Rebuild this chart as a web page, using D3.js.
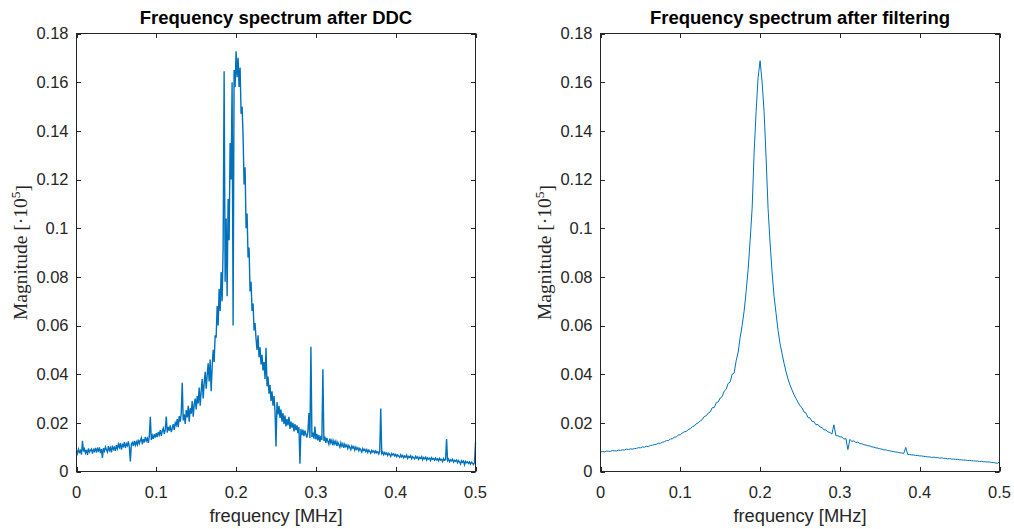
<!DOCTYPE html>
<html>
<head>
<meta charset="utf-8">
<script src="https://cdn.jsdelivr.net/npm/d3@7"></script>
<style>
  html, body { margin: 0; padding: 0; background: #fff; }
  svg { display: block; }
</style>
</head>
<body>
<script>
// ---------- data ----------
const freqStepDDC = 0.00125;      // MHz between bins, left spectrum (401 bins, 0..0.5)
const freqStepFilt = 0.0025;      // MHz between bins, right spectrum (201 bins, 0..0.5)
const titles = ["Frequency spectrum after DDC", "Frequency spectrum after filtering"];
const xTicks = [0, 0.1, 0.2, 0.3, 0.4, 0.5];
const xTickLabels = ["0", "0.1", "0.2", "0.3", "0.4", "0.5"];
const yTicks = [0, 0.02, 0.04, 0.06, 0.08, 0.1, 0.12, 0.14, 0.16, 0.18];
const yTickLabels = ["0", "0.02", "0.04", "0.06", "0.08", "0.1", "0.12", "0.14", "0.16", "0.18"];

const magAfterDDC = [
0.0088,0.0074,0.0091,0.0079,0.0086,0.0070,0.0126,0.0082,0.0093,0.0076,
0.0089,0.0068,0.0095,0.0080,0.0087,0.0092,0.0074,0.0090,0.0083,0.0097,
0.0078,0.0094,0.0085,0.0099,0.0076,0.0092,0.0056,0.0096,0.0084,0.0101,
0.0089,0.0080,0.0104,0.0087,0.0098,0.0079,0.0106,0.0091,0.0099,0.0085,
0.0108,0.0094,0.0112,0.0099,0.0117,0.0090,0.0110,0.0103,0.0121,0.0097,
0.0114,0.0106,0.0124,0.0100,0.0041,0.0113,0.0119,0.0105,0.0126,0.0108,
0.0122,0.0110,0.0131,0.0115,0.0127,0.0138,0.0112,0.0133,0.0120,0.0142,
0.0126,0.0136,0.0118,0.0145,0.0225,0.0130,0.0148,0.0134,0.0153,0.0139,
0.0158,0.0141,0.0163,0.0150,0.0170,0.0146,0.0167,0.0178,0.0155,0.0172,
0.0226,0.0160,0.0183,0.0168,0.0190,0.0162,0.0176,0.0195,0.0171,0.0200,
0.0190,0.0215,0.0182,0.0228,0.0205,0.0240,0.0365,0.0210,0.0235,0.0195,
0.0252,0.0222,0.0270,0.0205,0.0260,0.0238,0.0290,0.0225,0.0275,0.0300,
0.0255,0.0310,0.0280,0.0345,0.0270,0.0330,0.0380,0.0300,0.0365,0.0410,
0.0340,0.0395,0.0445,0.0370,0.0460,0.0330,0.0430,0.0500,0.0450,0.0560,
0.0550,0.0680,0.0600,0.0750,0.0660,0.0820,0.0700,0.0920,0.1645,0.0780,
0.1040,0.0720,0.1120,0.0950,0.1350,0.1200,0.1600,0.0600,0.1650,0.1580,
0.1727,0.1620,0.1700,0.1580,0.1660,0.1470,0.1500,0.1380,0.1180,0.1250,
0.1000,0.1060,0.0880,0.0920,0.0740,0.0780,0.0660,0.0690,0.0580,0.0610,
0.0545,0.0500,0.0560,0.0470,0.0510,0.0440,0.0480,0.0415,0.0450,0.0380,
0.0508,0.0350,0.0390,0.0320,0.0355,0.0290,0.0330,0.0270,0.0310,0.0250,
0.0103,0.0285,0.0235,0.0270,0.0220,0.0255,0.0205,0.0240,0.0195,0.0230,
0.0185,0.0215,0.0190,0.0225,0.0175,0.0205,0.0180,0.0200,0.0165,0.0195,
0.0170,0.0190,0.0158,0.0182,0.0032,0.0175,0.0150,0.0172,0.0145,0.0168,
0.0152,0.0140,0.0165,0.0240,0.0138,0.0513,0.0142,0.0160,0.0135,0.0185,
0.0132,0.0155,0.0128,0.0150,0.0122,0.0146,0.0130,0.0420,0.0125,0.0143,
0.0118,0.0138,0.0124,0.0112,0.0135,0.0117,0.0129,0.0108,0.0126,0.0113,
0.0124,0.0105,0.0120,0.0110,0.0100,0.0118,0.0104,0.0114,0.0097,0.0112,
0.0102,0.0109,0.0094,0.0107,0.0099,0.0090,0.0105,0.0096,0.0102,0.0088,
0.0100,0.0091,0.0097,0.0085,0.0095,0.0089,0.0080,0.0094,0.0086,0.0091,
0.0082,0.0090,0.0078,0.0088,0.0083,0.0075,0.0087,0.0080,0.0085,0.0076,
0.0084,0.0077,0.0081,0.0072,0.0083,0.0259,0.0074,0.0080,0.0069,0.0078,
0.0071,0.0076,0.0066,0.0075,0.0070,0.0062,0.0074,0.0068,0.0072,0.0064,
0.0070,0.0061,0.0068,0.0063,0.0058,0.0069,0.0060,0.0066,0.0056,0.0064,
0.0059,0.0067,0.0054,0.0062,0.0058,0.0065,0.0053,0.0061,0.0057,0.0052,
0.0062,0.0055,0.0060,0.0050,0.0058,0.0054,0.0061,0.0048,0.0057,0.0052,
0.0059,0.0047,0.0056,0.0051,0.0055,0.0045,0.0057,0.0050,0.0053,0.0046,
0.0055,0.0048,0.0052,0.0044,0.0054,0.0047,0.0050,0.0041,0.0053,0.0046,
0.0049,0.0133,0.0045,0.0051,0.0040,0.0048,0.0044,0.0050,0.0039,0.0046,
0.0042,0.0047,0.0036,0.0045,0.0040,0.0031,0.0044,0.0038,0.0043,0.0028,
0.0041,0.0036,0.0040,0.0033,0.0039,0.0030,0.0038,0.0034,0.0029,0.0036,
0.0119];

const magAfterFilter = [
0.0080,0.0082,0.0081,0.0084,0.0083,0.0083,0.0086,0.0085,0.0085,0.0088,
0.0087,0.0089,0.0088,0.0092,0.0090,0.0093,0.0092,0.0094,0.0095,0.0098,
0.0097,0.0101,0.0100,0.0104,0.0102,0.0107,0.0108,0.0111,0.0112,0.0116,
0.0116,0.0120,0.0122,0.0127,0.0127,0.0133,0.0135,0.0141,0.0142,0.0150,
0.0151,0.0158,0.0163,0.0165,0.0172,0.0176,0.0184,0.0187,0.0196,0.0200,
0.0208,0.0213,0.0226,0.0229,0.0240,0.0245,0.0262,0.0263,0.0282,0.0286,
0.0302,0.0308,0.0330,0.0338,0.0362,0.0368,0.0400,0.0405,0.0455,0.0490,
0.0550,0.0600,0.0660,0.0740,0.0830,0.0950,0.1080,0.1310,0.1480,0.1620,
0.1688,0.1600,0.1480,0.1290,0.1080,0.0940,0.0820,0.0720,0.0650,0.0580,
0.0525,0.0485,0.0445,0.0410,0.0380,0.0355,0.0335,0.0315,0.0300,0.0285,
0.0270,0.0262,0.0245,0.0240,0.0222,0.0220,0.0206,0.0205,0.0192,0.0193,
0.0183,0.0180,0.0172,0.0170,0.0163,0.0160,0.0154,0.0192,0.0147,0.0147,
0.0142,0.0142,0.0133,0.0136,0.0090,0.0132,0.0124,0.0126,0.0119,0.0121,
0.0115,0.0114,0.0110,0.0109,0.0106,0.0105,0.0101,0.0100,0.0097,0.0096,
0.0093,0.0092,0.0089,0.0089,0.0086,0.0085,0.0083,0.0082,0.0080,0.0079,
0.0077,0.0076,0.0074,0.0099,0.0070,0.0070,0.0068,0.0068,0.0066,0.0066,
0.0064,0.0064,0.0062,0.0062,0.0060,0.0060,0.0058,0.0059,0.0057,0.0057,
0.0055,0.0056,0.0054,0.0054,0.0052,0.0053,0.0051,0.0051,0.0050,0.0050,
0.0048,0.0048,0.0047,0.0047,0.0045,0.0046,0.0044,0.0044,0.0043,0.0043,
0.0041,0.0042,0.0040,0.0040,0.0039,0.0039,0.0037,0.0037,0.0035,0.0034,
0.0040];

const series = [magAfterDDC, magAfterFilter];
const steps = [freqStepDDC, freqStepFilt];

// ---------- layout ----------
const W = 1014, H = 529;
const svg = d3.select("body").append("svg").attr("width", W).attr("height", H);
const panels = [
  { left: 76.5, right: 475.5, lw: 1.4 },
  { left: 600.5, right: 999.5, lw: 1.0 }
];
const plotTop = 33.5, plotBottom = 471.5;
const axisColor = "#262626";
const tickFont = "Liberation Sans, Arial, Helvetica, sans-serif";

panels.forEach((p, k) => {
  const x = d3.scaleLinear().domain([0, 0.5]).range([p.left, p.right]);
  const y = d3.scaleLinear().domain([0, 0.18]).range([plotBottom, plotTop]);
  const g = svg.append("g");

  // data line
  const step = steps[k];
  const line = d3.line().x((d, i) => x(i * step)).y(d => y(d));
  g.append("path")
    .datum(series[k])
    .attr("d", line)
    .attr("fill", "none")
    .attr("stroke", "#0072BD")
    .attr("stroke-width", p.lw)
    .attr("stroke-linejoin", "miter");

  // box
  g.append("rect")
    .attr("x", p.left).attr("y", plotTop)
    .attr("width", p.right - p.left).attr("height", plotBottom - plotTop)
    .attr("fill", "none").attr("stroke", axisColor).attr("stroke-width", 1);

  const tl = 4.5;
  // x ticks (bottom & top, inward)
  xTicks.forEach((t, i) => {
    const xp = Math.round(x(t)) + 0.5;
    g.append("line").attr("x1", xp).attr("x2", xp).attr("y1", plotBottom).attr("y2", plotBottom - tl).attr("stroke", axisColor);
    g.append("line").attr("x1", xp).attr("x2", xp).attr("y1", plotTop).attr("y2", plotTop + tl).attr("stroke", axisColor);
    g.append("text").attr("x", x(t)).attr("y", 497.5)
      .attr("text-anchor", "middle")
      .attr("font-family", tickFont).attr("font-size", 16.5)
      .attr("fill", axisColor).text(xTickLabels[i]);
  });
  // y ticks (left & right, inward)
  yTicks.forEach((t, i) => {
    const yp = Math.round(y(t)) + 0.5;
    g.append("line").attr("x1", p.left).attr("x2", p.left + tl).attr("y1", yp).attr("y2", yp).attr("stroke", axisColor);
    g.append("line").attr("x1", p.right).attr("x2", p.right - tl).attr("y1", yp).attr("y2", yp).attr("stroke", axisColor);
    g.append("text").attr("x", p.left - 8).attr("y", y(t)).attr("dy", "0.36em")
      .attr("text-anchor", "end")
      .attr("font-family", tickFont).attr("font-size", 16.5)
      .attr("fill", axisColor).text(yTickLabels[i]);
  });

  const cx = (p.left + p.right) / 2;
  // title
  g.append("text").attr("x", cx).attr("y", 24)
    .attr("text-anchor", "middle")
    .attr("font-family", tickFont).attr("font-weight", "bold").attr("font-size", 18.5)
    .attr("fill", "#000").text(titles[k]);
  // x label
  g.append("text").attr("x", cx).attr("y", 521.5)
    .attr("text-anchor", "middle")
    .attr("font-family", tickFont).attr("font-size", 18.3)
    .attr("fill", axisColor).text("frequency [MHz]");
  // y label (serif, LaTeX-like)
  const ylab = g.append("text")
    .attr("transform", `translate(${p.left - 50},${(plotTop + plotBottom) / 2}) rotate(-90)`)
    .attr("text-anchor", "middle")
    .attr("font-family", "Liberation Serif, DejaVu Serif, serif").attr("font-size", 19.5)
    .attr("fill", axisColor);
  ylab.append("tspan").text("Magnitude [\u00B710");
  ylab.append("tspan").attr("dy", "-0.45em").attr("font-size", 13.5).text("5");
  ylab.append("tspan").attr("dy", "0.45em").text("]");
});
</script>
</body>
</html>
